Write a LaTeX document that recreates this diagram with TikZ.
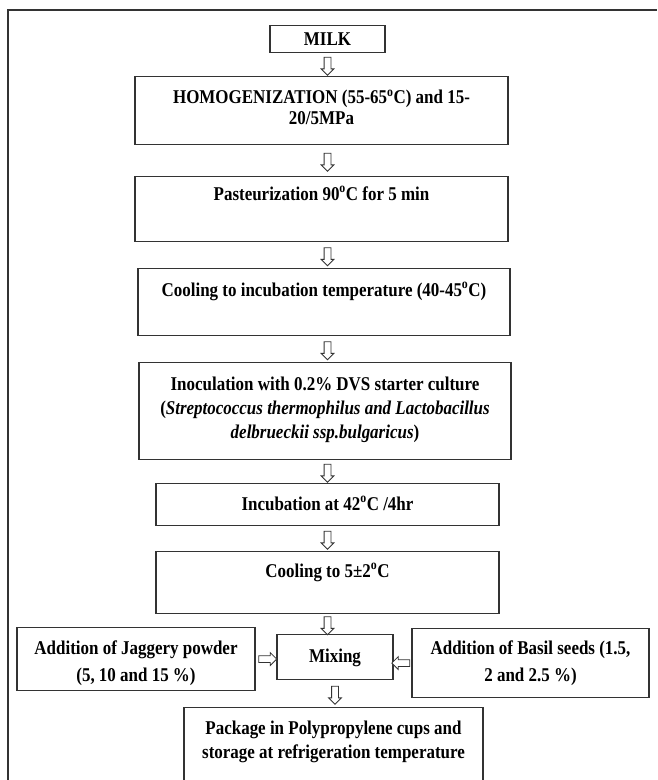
\documentclass[tikz,border=0pt]{standalone}
\usepackage{fontspec}
\setmainfont{Liberation Serif}[FakeStretch=0.87]
\usetikzlibrary{shapes.arrows}

\tikzset{
    stage/.style={draw=black!80, line width=1.1pt, anchor=north, align=center,
        inner xsep=4pt, inner ysep=0pt, font=\bfseries\fontsize{19.5}{24}\selectfont},
    harrow/.style={single arrow, draw=black!80, line width=0.8pt, fill=white,
        minimum height=18pt, single arrow head extend=3pt, inner sep=3pt,
        sloped, allow upside down}
}

\begin{document}
\begin{tikzpicture}[x=1pt, y=-1pt]
    \useasboundingbox (0,0) rectangle (657,780);
    % frame of the figure
    \draw[black!80, line width=1.1pt] (8,780) -- (8,10) -- (657,10);

    % process steps
    \node[stage, minimum width=115pt, text height=19.5pt, text depth=7.5pt] (milk) at (327.5,25) {MILK};
    \node[stage, minimum width=373pt, text height=48pt, text depth=20pt] (homog) at (321.5,76)
        {HOMOGENIZATION (55-65\textsuperscript{o}C) and 15-\\[-3pt]20/5MPa};
    \node[stage, minimum width=373pt, text height=23.5pt, text depth=41.5pt] (past) at (321.5,176)
        {Pasteurization 90\textsuperscript{o}C for 5 min};
    \node[stage, minimum width=372pt, text height=27.5pt, text depth=39.5pt] (cool) at (324,268)
        {Cooling to incubation temperature (40-45\textsuperscript{o}C)};
    \node[stage, minimum width=372pt, text height=76pt, text depth=21pt] (inoc) at (325,362)
        {Inoculation with 0.2\% DVS starter culture\\
        (\textit{Streptococcus thermophilus and Lactobacillus}\\
        \textit{delbrueckii ssp.bulgaricus})};
    \node[stage, minimum width=343pt, text height=26.5pt, text depth=15.5pt] (incub) at (327.5,483)
        {Incubation at 42\textsuperscript{o}C /4hr};
    \node[stage, minimum width=343pt, text height=25.5pt, text depth=36.5pt] (coolb) at (327.5,551)
        {Cooling to 5±2\textsuperscript{o}C};
    \node[stage, minimum width=238pt, text height=54pt, text depth=9pt] (jaggery) at (136,627)
        {Addition of Jaggery powder\\[3pt](5, 10 and 15 \%)};
    \node[stage, minimum width=116pt, text height=27.5pt, text depth=17.5pt] (mixing) at (335,634)
        {Mixing};
    \node[stage, minimum width=237pt, text height=53pt, text depth=16pt] (basil) at (530.5,628)
        {Addition of Basil seeds (1.5,\\[3pt]2 and 2.5 \%)};
    \node[stage, minimum width=299pt, text height=51pt, text depth=56pt] (package) at (333.5,707)
        {Package in Polypropylene cups and\\storage at refrigeration temperature};

    % hollow arrows
    \path (milk.south) -- node[harrow]{} (milk.south |- homog.north);
    \path (homog.south -| milk) -- node[harrow]{} (past.north -| milk);
    \path (past.south -| milk) -- node[harrow]{} (cool.north -| milk);
    \path (cool.south -| milk) -- node[harrow]{} (inoc.north -| milk);
    \path (inoc.south -| milk) -- node[harrow]{} (incub.north -| milk);
    \path (incub.south) -- node[harrow]{} (incub.south |- coolb.north);
    \path (coolb.south) -- node[harrow]{} (coolb.south |- mixing.north);
    \path (jaggery.east) -- node[harrow]{} (jaggery.east -| mixing.west);
    \path (basil.west) -- node[harrow]{} (basil.west -| mixing.east);
    \path (mixing.south) -- node[harrow]{} (mixing.south |- package.north);
\end{tikzpicture}
\end{document}
